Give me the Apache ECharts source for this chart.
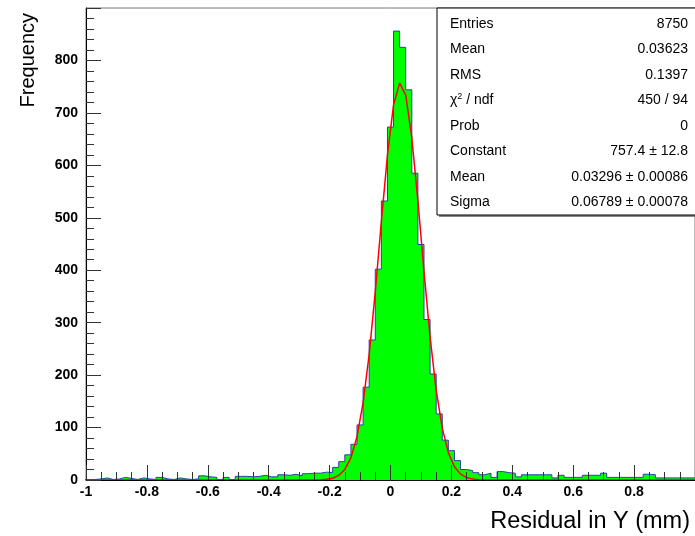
<!DOCTYPE html>
<html>
<head>
<meta charset="utf-8">
<script src="https://cdn.jsdelivr.net/npm/echarts@6/dist/echarts.min.js"></script>
<style>
  html, body { margin: 0; padding: 0; background: #fff; }
  #main { width: 695px; height: 536px; }
</style>
</head>
<body>
<div id="main"></div>
<script>
// histogram: 101 bins of width 0.02, first bin starts at -1.01
let binStart = -1.01;
let binWidth = 0.02;
let counts = [
    1, 1, 2, 4, 1, 2, 5, 3, 1, 4,
    2, 1, 5, 2, 1, 4, 2, 1, 2, 8,
    6, 5, 1, 5, 1, 7, 7, 6, 7, 9,
    6, 6, 10, 9, 11, 8, 12, 13, 13, 15,
    14, 24, 35, 48, 68, 105, 177, 267, 402, 532,
    673, 856, 825, 744, 585, 449, 306, 202, 126, 76,
    56, 37, 20, 18, 14, 10, 13, 5, 16, 14,
    13, 6, 10, 10, 10, 10, 10, 4, 9, 5,
    5, 5, 9, 9, 9, 13, 5, 5, 5, 5,
    5, 5, 11, 10, 4, 4, 4, 4, 4, 4,
    4
];

// gaus fit curve as drawn (red)
let fitX = [-1, -0.31, -0.29, -0.27, -0.25, -0.23, -0.21, -0.19, -0.17, -0.15, -0.13, -0.11,
    -0.09, -0.07, -0.05, -0.03, -0.01, 0.01, 0.03, 0.05, 0.07, 0.09, 0.11, 0.13,
    0.15, 0.17, 0.19, 0.21, 0.23, 0.25, 0.27, 0.29, 0.31, 0.33, 0.35, 1];
let fitY = [0, 0, 0, 0.05, 0.1, 0.4, 1.3, 3.4, 8.7, 20.1, 42.5, 82.5,
    146.9, 239.8, 359.0, 492.7, 620.0, 715.3, 756.7, 733.9, 652.6, 532.2, 397.8, 272.6,
    171.4, 98.8, 52.2, 25.3, 11.2, 4.6, 1.7, 0.6, 0.2, 0, 0, 0];

// stats box
let statNames = ['Entries', 'Mean', 'RMS', '{n|χ}{s|2}{n| / ndf}', 'Prob', 'Constant', 'Mean', 'Sigma'];
let statValues = ['8750', '0.03623', '0.1397', '450 / 94', '0', '757.4 ± 12.8', '0.03296 ± 0.00086', '0.06789 ± 0.00078'];

let xTitle = 'Residual in Y (mm)';
let yTitle = 'Frequency';

let font = '"Liberation Sans", Arial, Helvetica, sans-serif';

// step line points: left edge of every bin, plus right edge of the last one
let histData = counts.map((c, i) => [binStart + i * binWidth, c]);
histData.push([binStart + counts.length * binWidth, counts[counts.length - 1]]);

let fitData = fitX.map((x, i) => [x, fitY[i]]);

let graphics = [];
let boxX = 437, boxY = 8, rowH = 25.5;
graphics.push({
    type: 'rect', shape: {x: boxX + 2, y: boxY + 2, width: 270, height: 207},
    style: {fill: '#888'}, z: 100
});
graphics.push({
    type: 'rect', shape: {x: boxX, y: boxY, width: 270, height: 207},
    style: {fill: '#fff', stroke: '#000', lineWidth: 1}, z: 101
});
statNames.forEach((name, i) => {
    let y = boxY + 16 + i * rowH;
    graphics.push({
        type: 'text', x: 450, y: y, z: 102,
        style: {
            text: name, fill: '#000', font: '14px ' + font,
            textAlign: 'left', textVerticalAlign: 'middle',
            rich: {
                n: {fontSize: 14, fontFamily: font},
                s: {fontSize: 9, fontFamily: font, verticalAlign: 'top', padding: [0, 0, 7, 0]}
            }
        }
    });
    graphics.push({
        type: 'text', x: 688, y: y, z: 102,
        style: {
            text: statValues[i], fill: '#000', font: '14px ' + font,
            textAlign: 'right', textVerticalAlign: 'middle'
        }
    });
});
graphics.push({
    type: 'text', x: 28, y: 13, rotation: Math.PI / 2,
    style: {text: yTitle, fill: '#000', font: '20px ' + font, textAlign: 'right', textVerticalAlign: 'middle'}
});
graphics.push({
    type: 'text', x: 690, y: 522,
    style: {text: xTitle, fill: '#000', font: '23.5px ' + font, textAlign: 'right', textVerticalAlign: 'middle'}
});

const option = {
    animation: false,
    backgroundColor: '#fff',
    grid: {
        left: 86, top: 8, right: -2, bottom: 56,
        show: true, borderColor: '#777', borderWidth: 1, backgroundColor: 'transparent'
    },
    xAxis: {
        type: 'value', min: -1, max: 1, interval: 0.2, z: 10,
        axisLine: {onZero: false, lineStyle: {color: '#000', width: 1}},
        axisTick: {inside: true, length: 15, lineStyle: {color: '#333'}},
        minorTick: {show: true, splitNumber: 4, length: 8, lineStyle: {color: '#333'}},
        splitLine: {show: false},
        axisLabel: {
            color: '#000', fontWeight: 'bold', fontSize: 14, fontFamily: font,
            margin: 5, showMaxLabel: false
        }
    },
    yAxis: {
        type: 'value', min: 0, max: 900, interval: 100, z: 10,
        axisLine: {show: true, onZero: false, lineStyle: {color: '#000', width: 1}},
        axisTick: {show: true, inside: true, length: 15, lineStyle: {color: '#333'}},
        minorTick: {show: true, splitNumber: 5, length: 8, lineStyle: {color: '#333'}},
        splitLine: {show: false},
        axisLabel: {
            color: '#000', fontWeight: 'bold', fontSize: 14, fontFamily: font,
            margin: 8, showMaxLabel: false
        }
    },
    series: [{
        name: 'hist',
        type: 'line',
        step: 'end',
        data: histData,
        symbol: 'none',
        clip: true,
        lineStyle: {color: '#2f3fa8', width: 1},
        areaStyle: {color: '#00ff00', opacity: 1},
        z: 2
    }, {
        name: 'gaus',
        type: 'line',
        data: fitData,
        symbol: 'none',
        clip: true,
        lineStyle: {color: '#ff0000', width: 1.5},
        z: 3
    }],
    graphic: graphics
};

let plot = echarts.init(document.querySelector('#main'));
plot.setOption(option);
</script>
</body>
</html>
